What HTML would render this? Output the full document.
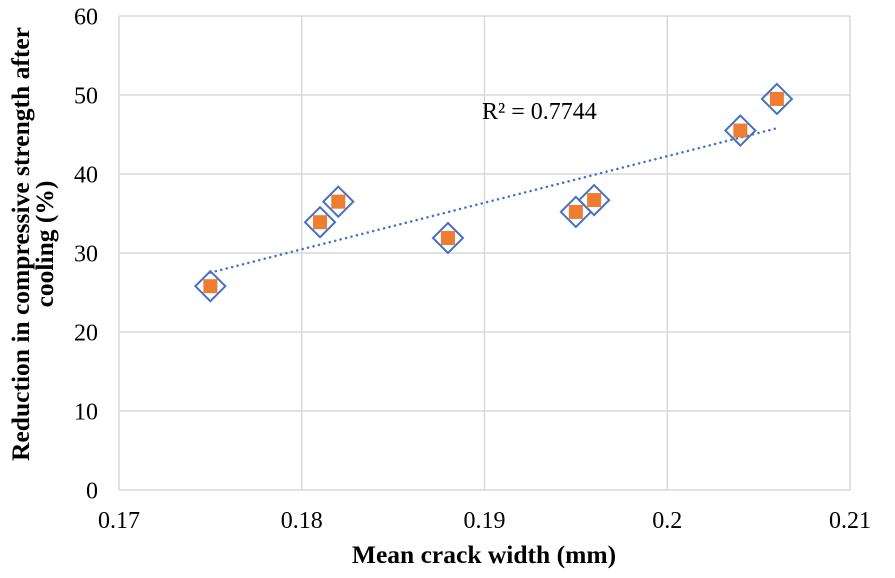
<!DOCTYPE html>
<html><head><meta charset="utf-8"><style>
html,body{margin:0;padding:0;background:#fff;}
svg{display:block;font-family:"Liberation Serif",serif;}
</style></head><body>
<svg id="chart" width="895" height="578" viewBox="0 0 895 578" xmlns="http://www.w3.org/2000/svg">
<g id="grid"></g>
<g id="axes"></g>
<g id="trend"></g>
<g id="pts"></g>
<text x="482" y="119" font-size="24">R² = 0.7744</text>
<text x="484" y="563" font-size="25.5" font-weight="bold" text-anchor="middle">Mean crack width (mm)</text>
<text transform="translate(29,244) rotate(-90)" font-size="25.5" font-weight="bold" text-anchor="middle"><tspan x="0" dy="0">Reduction in compressive strength after</tspan><tspan x="0" dy="24">cooling (%)</tspan></text>
</svg>
<script>
const xVals = [0.175, 0.181, 0.182, 0.188, 0.195, 0.196, 0.204, 0.206];
const yVals = [25.8, 33.9, 36.5, 31.9, 35.2, 36.7, 45.5, 49.5];
const xTicks = [0.17, 0.18, 0.19, 0.2, 0.21];
const xTickLabels = ["0.17", "0.18", "0.19", "0.2", "0.21"];
const yTicks = [0, 10, 20, 30, 40, 50, 60];
const trendX = [0.175, 0.206];

const NS = "http://www.w3.org/2000/svg";
const X0 = 119, X1 = 850, Y0 = 490, Y1 = 16;
const sx = v => X0 + (v - 0.17) / 0.04 * (X1 - X0);
const sy = v => Y0 - v / 60 * (Y0 - Y1);
function mk(tag, attrs, parent) {
  const e = document.createElementNS(NS, tag);
  for (const k in attrs) e.setAttribute(k, attrs[k]);
  parent.appendChild(e);
  return e;
}
const grid = document.getElementById('grid');
const axes = document.getElementById('axes');
yTicks.forEach((t, i) => {
  const l = mk('line', {x1: X0, x2: X1, y1: sy(t), y2: sy(t), stroke: '#d9d9d9', 'stroke-width': 1.5}, grid);
  
  
  const tx = mk('text', {x: X0 - 21, y: sy(t) + 8.5, 'font-size': 24, 'text-anchor': 'end'}, axes);
  tx.textContent = String(t);
  
  
});
xTicks.forEach((t, i) => {
  const l = mk('line', {x1: sx(t), x2: sx(t), y1: Y1, y2: Y0, stroke: '#d9d9d9', 'stroke-width': 1.5}, grid);
  
  
  const tx = mk('text', {x: sx(t), y: 528, 'font-size': 24, 'text-anchor': 'middle'}, axes);
  tx.textContent = xTickLabels[i];
  
  
});
const n = xVals.length;
const mx = xVals.reduce((a, b) => a + b) / n, my = yVals.reduce((a, b) => a + b) / n;
let num = 0, den = 0;
for (let i = 0; i < n; i++) { num += (xVals[i] - mx) * (yVals[i] - my); den += (xVals[i] - mx) ** 2; }
const slope = num / den, icpt = my - slope * mx;
const tl = mk('line', {x1: sx(trendX[0]), y1: sy(icpt + slope * trendX[0]), x2: sx(trendX[1]), y2: sy(icpt + slope * trendX[1]), stroke: '#4472c4', 'stroke-width': 2.5, 'stroke-dasharray': '0.1 5.5', 'stroke-linecap': 'round'}, document.getElementById('trend'));


const pts = document.getElementById('pts');
xVals.forEach((xv, i) => {
  const cx = sx(xv), cy = sy(yVals[i]);
  const d = mk('polygon', {points: `${cx},${cy-15} ${cx+15},${cy} ${cx},${cy+15} ${cx-15},${cy}`, fill: 'none', stroke: '#4472c4', 'stroke-width': 2}, pts);
  
  
  const s = mk('rect', {x: cx - 7, y: cy - 7, width: 14, height: 14, fill: '#ed7d31'}, pts);
  
  
});
</script>
</body></html>
